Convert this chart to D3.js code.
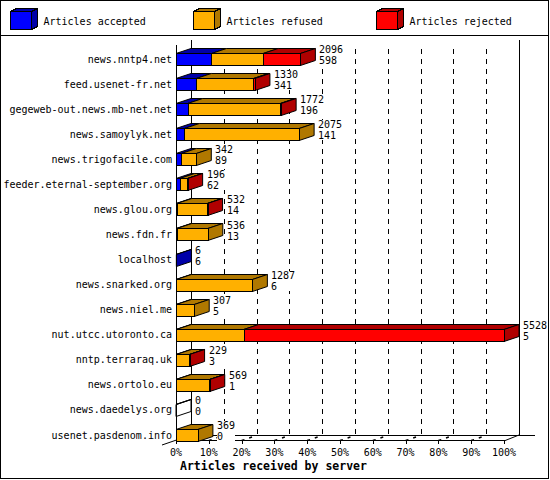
<!DOCTYPE html>
<html lang="en">
<head>
<meta charset="UTF-8">
<script src="https://d3js.org/d3.v7.min.js"></script>
<title>Articles received by server</title>
<style>
    body { margin: 0; background: #fff; }
    svg { display: block; }
    text { font-family: "DejaVu Sans Mono", monospace; font-size: 10px; fill: #000; }
</style>
</head>
<body>
<script>
    // data (refused / rejected)
    const servers = ['news.nntp4.net', 'feed.usenet-fr.net', 'gegeweb-out.news.mb-net.net', 'news.samoylyk.net',
        'news.trigofacile.com', 'feeder.eternal-september.org', 'news.glou.org', 'news.fdn.fr', 'localhost',
        'news.snarked.org', 'news.niel.me', 'nut.utcc.utoronto.ca', 'nntp.terraraq.uk', 'news.ortolo.eu',
        'news.daedelys.org', 'usenet.pasdenom.info'];
    const totals = [2096, 1330, 1772, 2075, 342, 196, 532, 536, 6, 1287, 307, 5528, 229, 569, 0, 369];
    const accepted = [598, 341, 196, 141, 89, 62, 14, 13, 6, 6, 5, 5, 3, 1, 0, 0];
    const refused = [870, 964, 1561, 1934, 253, 130, 512, 523, 0, 1281, 302, 1135, 222, 563, 0, 369];
    const rejected = [628, 25, 15, 0, 0, 4, 6, 0, 0, 0, 0, 4388, 4, 5, 0, 0];
    const seriesNames = ['Articles accepted', 'Articles refused', 'Articles rejected'];
    const tickLabels = ['0%', '10%', '20%', '30%', '40%', '50%', '60%', '70%', '80%', '90%', '100%'];

    const frontColors = ['#0000ff', '#ffb000', '#ff0000'];
    const darkColors = ['#0000a8', '#b07800', '#b00000'];

    const W = 550, H = 480;
    const dx = 15, dy = 5;            // 3d depth offset
    const floorY = 440, wallTop = 40;

    const svg = d3.select('body').append('svg')
        .attr('width', W)
        .attr('height', H)
        .attr('shape-rendering', 'crispEdges');

    // outer frame + legend separator
    svg.append('rect')
        .attr('x', 0.5).attr('y', 0.5)
        .attr('width', W - 2).attr('height', H - 2)
        .attr('fill', '#fff').attr('stroke', '#000');
    svg.append('line')
        .attr('x1', 0).attr('x2', W - 1)
        .attr('y1', 35.5).attr('y2', 35.5)
        .attr('stroke', '#000');

    // legend (little 3d boxes)
    const legend = svg.append('g')
        .selectAll('g')
        .data(seriesNames)
        .enter()
        .append('g')
        .attr('transform', (d, i) => `translate(${10.5 + i * 183}, 11.5)`);

    legend.append('polygon')
        .attr('points', '0,0 6,-3 27,-3 21,0')
        .attr('fill', (d, i) => darkColors[i]).attr('stroke', '#000');
    legend.append('polygon')
        .attr('points', '21,0 27,-3 27,15 21,18')
        .attr('fill', (d, i) => darkColors[i]).attr('stroke', '#000');
    legend.append('rect')
        .attr('width', 21).attr('height', 18)
        .attr('fill', (d, i) => frontColors[i]).attr('stroke', '#000');
    legend.append('text')
        .attr('x', 33).attr('y', 13)
        .text(d => d);

    // scales
    const maxTotal = d3.max(totals);
    const x = d3.scaleLinear().domain([0, maxTotal]).range([176, 504]);
    const xPct = d3.scaleLinear().domain([0, 100]).range([176, 504]);
    const y = d3.scaleBand()
        .domain(servers)
        .range([46.5, 447.6])
        .paddingInner(0.52)
        .paddingOuter(0.26);
    const tickValues = tickLabels.map(t => parseFloat(t));

    // back wall: solid ends, dashed grid in between
    svg.append('g')
        .selectAll('line')
        .data(tickValues)
        .enter()
        .append('line')
        .attr('x1', d => Math.round(xPct(d) + dx) + 0.5)
        .attr('x2', d => Math.round(xPct(d) + dx) + 0.5)
        .attr('y1', d => (d === 0 || d === 100) ? wallTop : 49)
        .attr('y2', floorY - dy)
        .attr('stroke', '#000')
        .attr('stroke-dasharray', d => (d === 0 || d === 100) ? null : '5,5');

    // floor
    const floor = svg.append('g').attr('stroke', '#000');
    floor.append('line')
        .attr('x1', xPct(0) + dx).attr('x2', xPct(100) + 2 * dx + 1)
        .attr('y1', floorY - dy + 0.5).attr('y2', floorY - dy + 0.5);
    floor.append('line')
        .attr('x1', xPct(0)).attr('x2', xPct(100))
        .attr('y1', floorY + 0.5).attr('y2', floorY + 0.5);
    floor.append('line')
        .attr('shape-rendering', 'auto')
        .attr('x1', xPct(0) - dx + 1).attr('y1', floorY + dy)
        .attr('x2', xPct(0) + dx).attr('y2', floorY - dy);
    floor.append('line')
        .attr('shape-rendering', 'auto')
        .attr('x1', xPct(100)).attr('y1', floorY + 1)
        .attr('x2', xPct(100) + dx).attr('y2', floorY - dy);

    // ticks on the floor
    const ticks = svg.append('g')
        .selectAll('g')
        .data(tickValues)
        .enter()
        .append('g');
    ticks.append('line')
        .attr('x1', d => Math.round(xPct(d)) + 0.5).attr('x2', d => Math.round(xPct(d)) + 0.5)
        .attr('y1', floorY).attr('y2', floorY + 4)
        .attr('stroke', '#000');
    ticks.filter(d => d > 0 && d < 100).append('line')
        .attr('shape-rendering', 'auto')
        .attr('x1', d => xPct(d)).attr('y1', floorY + 0.5)
        .attr('x2', d => xPct(d) + dx).attr('y2', floorY - dy + 0.5)
        .attr('stroke', '#000')
        .attr('stroke-width', 1.4)
        .attr('stroke-dasharray', '3,5');
    ticks.append('text')
        .attr('x', d => xPct(d))
        .attr('y', 456)
        .attr('text-anchor', 'middle')
        .text((d, i) => tickLabels[i]);

    // bars
    const rows = servers.map((s, i) => {
        const vals = [accepted[i], refused[i], rejected[i]];
        let acc = 0;
        const segs = vals.map((v, k) => {
            const seg = { k: k, x0: acc, x1: acc + v, v: v };
            acc += v;
            return seg;
        });
        let last = -1;
        vals.forEach((v, k) => { if (v > 0) last = k; });
        return { server: s, total: totals[i], accepted: accepted[i], segs: segs, last: last, end: acc };
    });

    const bar = svg.append('g')
        .selectAll('g')
        .data(rows)
        .enter()
        .append('g')
        .attr('transform', d => `translate(0, ${Math.round(y(d.server)) + 0.5})`);
    const bh = Math.round(y.bandwidth());

    // top faces
    bar.selectAll('.top')
        .data(d => d.segs.filter(s => s.v > 0))
        .enter()
        .append('polygon')
        .attr('shape-rendering', 'auto')
        .attr('points', s => {
            const a = x(s.x0), b = x(s.x1);
            return `${a},0 ${a + dx},${-dy} ${b + dx},${-dy} ${b},0`;
        })
        .attr('fill', s => darkColors[s.k])
        .attr('stroke', '#000');

    // zero bars still show their outline
    bar.filter(d => d.end === 0).append('polygon')
        .attr('shape-rendering', 'auto')
        .attr('points', `${x(0)},0 ${x(0) + dx},${-dy} ${x(0)},0`)
        .attr('fill', 'none').attr('stroke', '#000');

    // side face
    bar.append('polygon')
        .attr('shape-rendering', 'auto')
        .attr('points', d => {
            const e = x(d.end);
            return `${e},0 ${e + dx},${-dy} ${e + dx},${bh - dy} ${e},${bh}`;
        })
        .attr('fill', d => d.last < 0 ? 'none' : darkColors[d.last])
        .attr('stroke', '#000');

    // front faces
    bar.selectAll('.front')
        .data(d => d.segs.filter(s => s.v > 0))
        .enter()
        .append('rect')
        .attr('x', s => Math.round(x(s.x0)) + 0.5)
        .attr('y', 0)
        .attr('width', s => Math.max(0, Math.round(x(s.x1)) - Math.round(x(s.x0))))
        .attr('height', bh)
        .attr('fill', s => frontColors[s.k])
        .attr('stroke', '#000');

    // front axis line
    svg.append('line')
        .attr('x1', xPct(0) + 0.5).attr('x2', xPct(0) + 0.5)
        .attr('y1', wallTop + dy).attr('y2', floorY)
        .attr('stroke', '#000');

    // server names
    svg.append('g')
        .selectAll('text')
        .data(servers)
        .enter()
        .append('text')
        .attr('x', 172)
        .attr('y', d => y(d) + y.bandwidth() / 2 + 3.5)
        .attr('text-anchor', 'end')
        .text(d => d);

    // value labels (total / accepted) on a white patch
    const lab = svg.append('g')
        .selectAll('g')
        .data(rows)
        .enter()
        .append('g')
        .attr('transform', d => `translate(${Math.round(x(d.end)) + dx + 4}, ${y(d.server) + y.bandwidth() / 2})`);
    lab.append('text').attr('y', -6).text(d => d.total);
    lab.append('text').attr('y', 5).text(d => d.accepted);
    lab.each(function () {
        const g = d3.select(this);
        const bb = this.getBBox();
        g.insert('rect', 'text')
            .attr('x', bb.x).attr('y', bb.y + 1)
            .attr('width', bb.width).attr('height', bb.height - 2)
            .attr('fill', '#fff');
    });

    // axis title
    svg.append('text')
        .attr('x', 180)
        .attr('y', 470)
        .attr('font-weight', 'bold')
        .style('font-size', '11.5px')
        .text('Articles received by server');
</script>
</body>
</html>
